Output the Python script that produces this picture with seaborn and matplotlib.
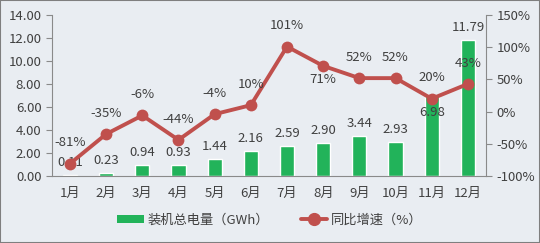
import numpy as np
import pandas as pd
import matplotlib
matplotlib.use("Agg")
import matplotlib.pyplot as plt
import seaborn as sns
from matplotlib.patches import Rectangle, Patch
from matplotlib.lines import Line2D
from matplotlib.ticker import FormatStrFormatter, FuncFormatter

# data
months = ["1月", "2月", "3月", "4月", "5月", "6月", "7月", "8月", "9月", "10月", "11月", "12月"]
energy_gwh = [0.11, 0.23, 0.94, 0.93, 1.44, 2.16, 2.59, 2.90, 3.44, 2.93, 6.98, 11.79]
yoy_pct = [-81, -35, -6, -44, -4, 10, 101, 71, 52, 52, 20, 43]

sns.set_style("white")
plt.rcParams['font.family'] = ['Noto Sans CJK SC', 'DejaVu Sans']

bg = "#e9edf2"
green = "#22b35a"
red = "#c0504d"
txt = "#404040"
grey = "#8a8a8a"

df = pd.DataFrame({"month": months, "energy": energy_gwh, "pct": yoy_pct})

fig = plt.figure(figsize=(5.4, 2.43), dpi=100, facecolor=bg)
ax = fig.add_axes([0.096, 0.276, 0.804, 0.662])
ax.set_facecolor(bg)

sns.barplot(data=df, x="month", y="energy", color=green, width=0.39,
            saturation=1, ax=ax, zorder=2)
ax.set_xlim(-0.5, 11.5)
ax.set_ylim(0, 14)
ax.set_yticks(np.arange(0, 15, 2))
ax.yaxis.set_major_formatter(FormatStrFormatter("%.2f"))
ax.set_xlabel("")
ax.set_ylabel("")

ax2 = ax.twinx()
sns.lineplot(x=np.arange(len(months)), y=yoy_pct, color=red, lw=2.8,
             marker="o", markersize=8.5, markeredgewidth=0, ax=ax2, zorder=3)
ax2.set_ylim(-100, 150)
ax2.set_yticks(np.arange(-100, 151, 50))
ax2.yaxis.set_major_formatter(FuncFormatter(lambda v, p: f"{int(v)}%"))
ax2.set_xlim(-0.5, 11.5)

for a in (ax, ax2):
    for s in a.spines.values():
        s.set_visible(False)
    a.tick_params(colors=txt, labelsize=9.5, length=4, width=0.8)
    a.tick_params(axis="y", color=grey)
ax.spines["left"].set_visible(True)
ax.spines["left"].set_color(grey)
ax.spines["bottom"].set_visible(True)
ax.spines["bottom"].set_color(grey)
ax2.spines["right"].set_visible(True)
ax2.spines["right"].set_color(grey)

# x ticks between categories
ax.set_xticks(np.arange(len(months)))
ax.set_xticklabels(months)
ax.tick_params(axis="x", length=0, pad=8)
ax.set_xticks(np.arange(-0.5, len(months), 1), minor=True)
ax.tick_params(axis="x", which="minor", length=4, color=grey)

# bar labels
for i, v in enumerate(energy_gwh):
    off = -12 if i == 10 else 9
    ax.annotate(f"{v:.2f}", (i, v), xytext=(0, off), textcoords="offset points",
                ha="center", va="center", fontsize=9.5, color=txt, zorder=5)

# line labels
for i, v in enumerate(yoy_pct):
    off = -10 if i == 7 else 15
    ax2.annotate(f"{v}%", (i, v), xytext=(0, off), textcoords="offset points",
                 ha="center", va="center", fontsize=9.5, color=txt, zorder=5)

handles = [Patch(facecolor=green, edgecolor="none"),
           Line2D([], [], color=red, lw=2.8, marker="o", markersize=8.5)]
fig.legend(handles, ["装机总电量（GWh）", "同比增速（%）"], loc="center",
           bbox_to_anchor=(0.5, 0.095), ncol=2, frameon=False, fontsize=9.5,
           labelcolor=txt, handlelength=2.0, handleheight=0.6,
           handletextpad=0.3, columnspacing=2.4)

fig.patches.append(Rectangle((0, 0), 1, 1, transform=fig.transFigure, fill=False,
                             edgecolor="#7f7f7f", lw=1.5))

fig.savefig("out.png", dpi=100, facecolor=bg)
